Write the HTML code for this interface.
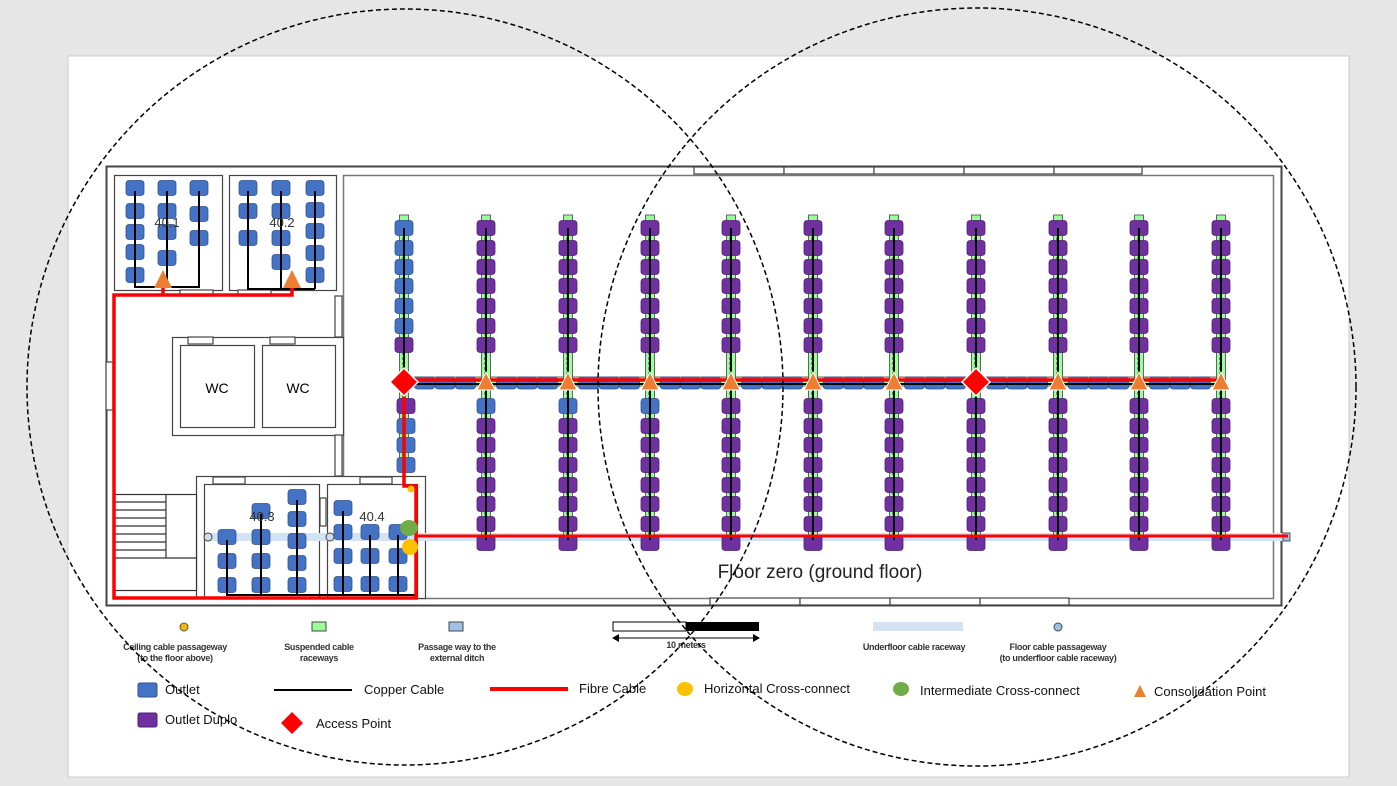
<!DOCTYPE html>
<html><head><meta charset="utf-8"><style>
html,body{margin:0;padding:0;background:#e6e6e6;}
svg{display:block}
text{font-family:"Liberation Sans",sans-serif}
</style></head><body>
<svg id="s" width="1397" height="786" viewBox="0 0 1397 786" xmlns="http://www.w3.org/2000/svg">
<rect x="0" y="0" width="1397" height="786" fill="#e6e6e6"/>
<rect x="68" y="56" width="1281" height="721" fill="#fff" stroke="#ccc"/>
<!-- building -->
<rect x="106.5" y="166.5" width="1175" height="439" fill="none" stroke="#444" stroke-width="2"/>
<rect x="343.5" y="175.5" width="930" height="423" fill="none" stroke="#777" stroke-width="1.5"/>
<g fill="#fff" stroke="#444" stroke-width="1.2">
<rect x="114.5" y="175.5" width="108" height="115"/>
<rect x="229.5" y="175.5" width="107" height="115"/>
<rect x="172.5" y="337.5" width="171" height="98"/>
<rect x="180.5" y="345.5" width="74" height="82"/>
<rect x="262.5" y="345.5" width="73" height="82"/>
<rect x="196.5" y="476.5" width="229" height="122"/>
<rect x="204.5" y="484.5" width="115" height="114"/>
<rect x="327.5" y="484.5" width="90" height="114"/>
<rect x="335" y="296" width="7" height="41"/>
<rect x="335" y="435" width="7" height="41"/>
<rect x="106" y="362" width="7" height="48"/>
<rect x="188" y="337" width="25" height="7"/>
<rect x="270" y="337" width="25" height="7"/>
<rect x="213" y="477" width="32" height="7"/>
<rect x="360" y="477" width="32" height="7"/>
<rect x="320" y="498" width="6" height="28"/>
<rect x="180" y="290" width="33" height="6"/>
<rect x="238" y="290" width="33" height="6"/>
<rect x="694" y="167" width="90" height="7"/><rect x="784" y="167" width="90" height="7"/>
<rect x="874" y="167" width="90" height="7"/><rect x="964" y="167" width="90" height="7"/><rect x="1054" y="167" width="88" height="7"/>
<rect x="710" y="598" width="90" height="7"/><rect x="800" y="598" width="90" height="7"/>
<rect x="890" y="598" width="90" height="7"/><rect x="980" y="598" width="89" height="7"/>
</g>
<g stroke="#333" stroke-width="1.2">
<rect x="114.5" y="494.5" width="82" height="96" fill="#fff"/>
<line x1="114" y1="502" x2="166" y2="502"/><line x1="114" y1="510" x2="166" y2="510"/>
<line x1="114" y1="518" x2="166" y2="518"/><line x1="114" y1="526" x2="166" y2="526"/>
<line x1="114" y1="534" x2="166" y2="534"/><line x1="114" y1="542" x2="166" y2="542"/>
<line x1="114" y1="550" x2="166" y2="550"/><line x1="114" y1="558" x2="196" y2="558"/>
<line x1="166" y1="494" x2="166" y2="558"/>
</g>
<text x="217" y="393" font-size="14" text-anchor="middle">WC</text>
<text x="298" y="393" font-size="14" text-anchor="middle">WC</text>
<!-- underfloor raceway -->
<rect x="208" y="533" width="1082" height="8" fill="#d3e3f3"/>
<rect x="1283" y="533" width="7" height="8" fill="#9cc3e6" stroke="#555"/>
<circle cx="208" cy="537" r="4" fill="#cde" stroke="#444"/>
<circle cx="330" cy="537" r="4" fill="#cde" stroke="#444"/>
<g id="dyn"></g>
<text x="413" y="478" font-size="1"> </text>
<text x="820" y="578" font-size="19" text-anchor="middle" fill="#222">Floor zero (ground floor)</text>
<text x="167" y="227" font-size="13" text-anchor="middle" fill="#333">40.1</text>
<text x="282" y="227" font-size="13" text-anchor="middle" fill="#333">40.2</text>
<text x="262" y="521" font-size="13" text-anchor="middle" fill="#333">40.3</text>
<text x="372" y="521" font-size="13" text-anchor="middle" fill="#333">40.4</text>
<!-- legend -->
<circle cx="184" cy="627" r="4" fill="#f5b800" stroke="#555"/>
<rect x="312" y="622" width="14" height="9" fill="#9f9" stroke="#444"/>
<rect x="449" y="622" width="14" height="9" fill="#9cc3e6" stroke="#444"/>
<rect x="613" y="622" width="73" height="9" fill="#fff" stroke="#000"/>
<rect x="686" y="622" width="73" height="9" fill="#000"/>
<line x1="616" y1="638" x2="756" y2="638" stroke="#000"/>
<path d="M612 638l7-4v8zM760 638l-7-4v8z" fill="#000"/>
<rect x="873" y="622" width="90" height="9" fill="#d3e3f3"/>
<circle cx="1058" cy="627" r="4" fill="#9cc3e6" stroke="#444"/>
<g font-size="9" font-weight="bold" fill="#333" text-anchor="middle" style="letter-spacing:-0.3px">
<text x="175" y="650">Ceiling cable passageway</text><text x="175" y="661">(to the floor above)</text>
<text x="319" y="650">Suspended cable</text><text x="319" y="661">raceways</text>
<text x="457" y="650">Passage way to the</text><text x="457" y="661">external ditch</text>
<text x="686" y="648">10 meters</text>
<text x="914" y="650">Underfloor cable raceway</text>
<text x="1058" y="650">Floor cable passageway</text><text x="1058" y="661">(to underfloor cable raceway)</text>
</g>
<rect x="138" y="683" width="19" height="14" rx="2" fill="#4472c4" stroke="#2f528f"/>
<rect x="138" y="713" width="19" height="14" rx="2" fill="#7030a0" stroke="#4a2070"/>
<line x1="274" y1="690" x2="352" y2="690" stroke="#000" stroke-width="2"/>
<line x1="490" y1="689" x2="568" y2="689" stroke="#f00" stroke-width="4"/>
<ellipse cx="685" cy="689" rx="8" ry="7" fill="#ffc000"/>
<ellipse cx="901" cy="689" rx="8" ry="7" fill="#70ad47"/>
<path d="M1134 697l6-12 6 12z" fill="#ed7d31"/>
<path d="M292 712l11 11-11 11-11-11z" fill="#f00"/>
<g font-size="13" fill="#111">
<text x="165" y="694">Outlet</text><text x="165" y="724">Outlet Duplo</text>
<text x="364" y="694">Copper Cable</text><text x="579" y="693">Fibre Cable</text>
<text x="704" y="693">Horizontal Cross-connect</text>
<text x="920" y="695">Intermediate Cross-connect</text>
<text x="1154" y="696">Consolidation Point</text>
<text x="316" y="728">Access Point</text>
</g>
<!-- circles -->
<circle cx="405" cy="387" r="378" fill="none" stroke="#000" stroke-width="1.5" stroke-dasharray="5,3"/>
<circle cx="977" cy="387" r="379" fill="none" stroke="#000" stroke-width="1.5" stroke-dasharray="5,3"/>
</svg>
<script>
var NS="http://www.w3.org/2000/svg",g=document.getElementById('dyn'),h='';
var B='#4472c4',BS='#2f528f',P='#7030a0',PS='#4a2070';
function o(cx,cy,c,w,hh){w=w||18;hh=hh||15;h+='<rect x="'+(cx-w/2)+'" y="'+(cy-hh/2)+'" width="'+w+'" height="'+hh+'" rx="3" fill="'+(c=='b'?B:P)+'" stroke="'+(c=='b'?BS:PS)+'" stroke-width="0.8"/>';}
var cols=[404,486,568,650,731,813,894,976,1058,1139,1221];
var up=[228,248,267,286,306,326,345],dn=[406,426,445,465,485,504,524,543];
// horizontal raceway
h+='<rect x="414" y="377" width="811" height="9" fill="#9f9" stroke="#444" stroke-width="0.8"/>';
for(var i=0;i<cols.length-1;i++){var a=cols[i],b=cols[i+1];for(var k=1;k<=3;k++){o(a+(b-a)*k/4,383,'b',20,12);}}
h+='<line x1="414" y1="384" x2="1221" y2="384" stroke="#000" stroke-width="2"/>';
cols.forEach(function(x,i){
 var bot=i==0?470:545;
 h+='<rect x="'+(x-4.5)+'" y="215" width="9" height="'+(bot-215)+'" fill="#9f9" stroke="#444" stroke-width="0.8"/>';
 h+='<line x1="'+(x-1.5)+'" y1="222" x2="'+(x-1.5)+'" y2="'+bot+'" stroke="#1a6e1a" stroke-width="0.6" stroke-dasharray="3,2"/>';
 up.forEach(function(y,j){o(x,y,i==0?(j==6?'p':'b'):'p');});
 var d=i==0?dn.slice(0,4):dn;
 d.forEach(function(y,j){o(x+(i==0?2:0),y,(j==0&&i>=1&&i<=3)?'b':(i==0?(j==0?'p':'b'):'p'));});
 h+='<line x1="'+x+'" y1="228" x2="'+x+'" y2="'+(i==0?470:540)+'" stroke="#000" stroke-width="2"/>';
});
// rooms outlets
function room(xs,rows,base,lineBottom){xs.forEach(function(x,i){rows[i].forEach(function(y){o(x,y,'b');});h+='<line x1="'+x+'" y1="'+(rows[i][0]+3)+'" x2="'+x+'" y2="'+lineBottom+'" stroke="#000" stroke-width="2"/>';});}
room([135,167,199],[[188,211,232,252,275],[188,211,232,258],[188,214,238]],0,288);
h+='<line x1="135" y1="287" x2="199" y2="287" stroke="#000" stroke-width="2"/>';
room([248,281,315],[[188,211,238],[188,211,238,262],[188,210,231,253,275]],0,289);
h+='<line x1="247" y1="289" x2="315" y2="289" stroke="#000" stroke-width="2"/>';
room([227,261,297],[[537,561,585],[511,537,561,585],[497,519,541,563,585]],0,595);
room([343,370,398],[[508,532,556,584],[532,556,584],[532,556,584]],0,595);
h+='<line x1="226" y1="595" x2="415" y2="595" stroke="#000" stroke-width="2"/>';
// fibre
h+='<polyline points="404,383 404,486 416,486 416,598 114,598 114,295 292,295 292,287" fill="none" stroke="#f00" stroke-width="3.5"/>';
h+='<line x1="163" y1="295" x2="163" y2="287" stroke="#f00" stroke-width="3.5"/>';
h+='<line x1="404" y1="380" x2="1221" y2="380" stroke="#f00" stroke-width="3.5"/>';
h+='<line x1="416" y1="536" x2="1288" y2="536" stroke="#f00" stroke-width="3"/>';
// triangles
cols.forEach(function(x,i){if(i==0||i==7)return;h+='<path d="M'+(x-9)+' 390 L'+x+' 372 L'+(x+9)+' 390z" fill="#ed7d31" stroke="#fff" stroke-width="1"/>';});
h+='<path d="M'+(163-9)+' 288 L163 270 L'+(163+9)+' 288z" fill="#ed7d31"/>';
h+='<path d="M'+(292-9)+' 288 L292 270 L'+(292+9)+' 288z" fill="#ed7d31"/>';
[404,976].forEach(function(x){h+='<path d="M'+x+' 368 L'+(x+14)+' 382 L'+x+' 396 L'+(x-14)+' 382z" fill="#f00" stroke="#fff" stroke-width="1.5"/>';});
h+='<ellipse cx="409" cy="528" rx="9" ry="8" fill="#70ad47"/><ellipse cx="410" cy="547" rx="8" ry="8" fill="#ffc000"/>';
h+='<circle cx="411" cy="489" r="3.5" fill="#ffc000"/>';
g.innerHTML=h;
</script>
</body></html>
